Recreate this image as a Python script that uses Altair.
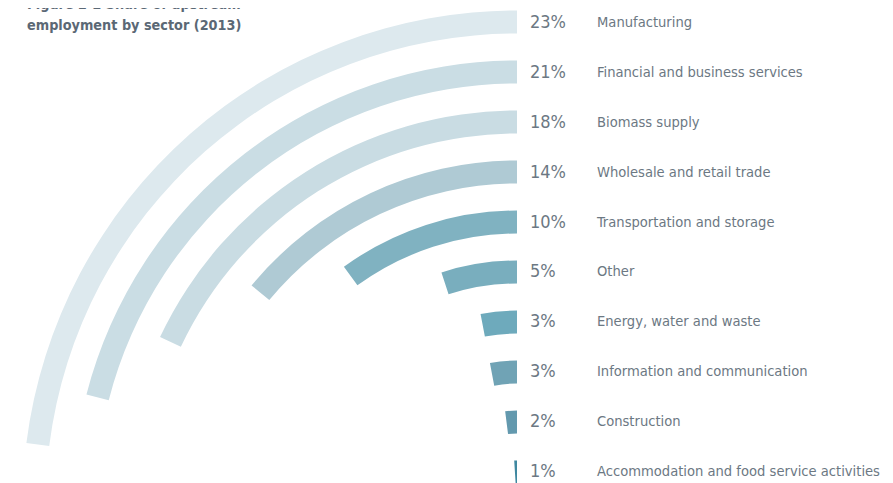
import altair as alt
import pandas as pd

sectors = [
    "Manufacturing",
    "Financial and business services",
    "Biomass supply",
    "Wholesale and retail trade",
    "Transportation and storage",
    "Other",
    "Energy, water and waste",
    "Information and communication",
    "Construction",
    "Accommodation and food service activities",
]
shares = [23, 21, 18, 14, 10, 5, 3, 3, 2, 1]
colors = ["#dde9ee", "#cadde4", "#c9dce3", "#afcad4", "#80b2c1",
          "#79aebe", "#6eaabc", "#70a3b5", "#6399ae", "#3f88a0"]
title_lines = ["Figure 2-2 Share of upstream", "employment by sector (2013)"]

df = pd.DataFrame({"sector": sectors, "share": shares, "order": list(range(len(sectors)))})
df["pct"] = df["share"].astype(str) + "%"

FONT = "DejaVu Sans Condensed, Roboto"
TXT = "#6c7883"

color_scale = alt.Scale(domain=sectors, range=colors)

base = alt.Chart(df)

arcs = base.transform_calculate(
    start="100 - datum.share",
    end="100",
    ring="9 - datum.order",
    r_out="datum.ring + 0.5 + 0.23",
    r_in="datum.ring + 0.5 - 0.23",
).mark_arc(stroke=None).encode(
    theta=alt.Theta("start:Q", stack=None,
                    scale=alt.Scale(domain=[0, 100], range=[0, 6.283185307179586])),
    theta2="end:Q",
    radius=alt.Radius("r_out:Q", scale=alt.Scale(type="linear", domain=[0, 10], range=[8, 508])),
    radius2="r_in:Q",
    x=alt.value(509),
    y=alt.value(497),
    color=alt.Color("sector:N", scale=color_scale, legend=None),
)

yscale = alt.Scale(type="point", domain=sectors, range=[15, 464], padding=0)

pct_text = base.mark_text(align="left", baseline="middle", font=FONT, fontSize=18, color=TXT).encode(
    x=alt.value(522),
    y=alt.Y("sector:N", scale=yscale, axis=None),
    text="pct:N",
)

name_text = base.mark_text(align="left", baseline="middle", font=FONT, fontSize=14.6, color=TXT).encode(
    x=alt.value(589),
    y=alt.Y("sector:N", scale=yscale, axis=None),
    text="sector:N",
)

title = alt.Chart(alt.Data(values=[{}])).mark_text(
    align="left", baseline="alphabetic", font=FONT, fontSize=14.3, fontWeight="bold",
    color="#5b6875", lineHeight=21,
).encode(
    x=alt.value(19),
    y=alt.value(1),
    text=alt.value(title_lines),
)

chart = alt.layer(arcs, pct_text, name_text, title).properties(
    width=877, height=475, autosize=alt.AutoSizeParams(type="none"), padding=0
).configure_view(stroke=None)

chart.save("out.html", embed_options={"renderer": "svg", "actions": False})
